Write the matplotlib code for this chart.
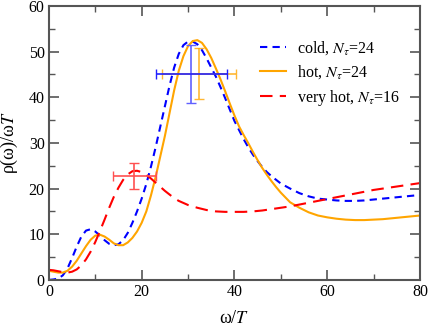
import matplotlib
matplotlib.use("Agg")
import matplotlib.pyplot as plt
from matplotlib.ticker import MultipleLocator

plt.rcParams["font.family"] = ["Liberation Serif", "DejaVu Serif"]
plt.rcParams["mathtext.fontset"] = "stix"

# spectral functions
cold_x = [0, 1, 2, 3, 4, 5, 6, 7, 8, 9, 10, 11, 12, 13, 14, 15, 16, 17, 18, 19,
          20, 21, 22, 23, 24, 25, 26, 27, 28, 29, 30, 31, 32, 33, 34, 35, 36, 37,
          38, 39, 40, 41, 42, 43, 44, 45, 46, 47, 48, 49, 50, 52, 54, 56, 58, 60,
          62, 64, 66, 68, 70, 72, 74, 76, 78, 80]
cold_y = [0.0, 0.1, 0.3, 1.0, 2.5, 4.8, 7.3, 9.5, 10.8, 11.1, 10.6, 9.7, 8.7, 7.9,
          7.6, 7.8, 8.7, 10.3, 12.5, 15.0, 17.8, 21.0, 24.8, 29.0, 33.5, 38.0, 42.5,
          46.5, 49.5, 51.4, 52.2, 52.2, 51.6, 50.3, 48.5, 46.5, 44.5, 42.2, 39.8,
          37.3, 34.8, 32.8, 30.8, 29.0, 27.4, 26.0, 24.7, 23.6, 22.7, 21.9, 21.1,
          20.0, 19.0, 18.3, 17.8, 17.6, 17.4, 17.3, 17.3, 17.4, 17.6, 17.8, 18.0,
          18.2, 18.4, 18.6]

hot_x = [0, 1, 2, 3, 4, 5, 6, 7, 8, 9, 10, 11, 12, 13, 14, 15, 16, 17, 18, 19,
         20, 21, 22, 23, 24, 25, 26, 27, 28, 29, 30, 31, 32, 33, 34, 35, 36, 37,
         38, 39, 40, 41, 42, 43, 44, 45, 46, 47, 48, 49, 50, 52, 54, 56, 58, 60,
         62, 64, 66, 68, 70, 72, 74, 76, 78, 80]
hot_y = [2.0, 1.8, 1.6, 1.6, 2.0, 2.9, 4.2, 5.8, 7.4, 8.8, 9.7, 9.9, 9.5, 8.8,
         8.0, 7.6, 7.6, 8.2, 9.2, 10.6, 12.5, 15.0, 18.5, 22.5, 27.0, 31.5, 36.5,
         41.5, 45.8, 49.0, 51.2, 52.3, 52.5, 51.9, 50.5, 48.6, 46.3, 43.9, 41.3,
         38.6, 36.0, 33.6, 31.7, 29.9, 28.0, 26.2, 24.5, 23.0, 21.6, 20.3, 19.1,
         17.0, 15.8, 14.8, 14.1, 13.7, 13.4, 13.2, 13.1, 13.1, 13.2, 13.3, 13.5,
         13.7, 13.9, 14.1]

vhot_x = [0, 1, 2, 3, 4, 5, 6, 7, 8, 9, 10, 11, 12, 13, 14, 15, 16, 17, 18, 19,
          20, 21, 22, 23, 24, 25, 26, 27, 28, 30, 32, 34, 36, 38, 40, 42, 44, 46,
          48, 50, 52, 54, 56, 58, 60, 62, 64, 66, 68, 70, 72, 74, 76, 78, 80]
vhot_y = [2.2, 2.1, 1.9, 1.7, 1.6, 1.8, 2.3, 3.2, 4.5, 6.2, 8.3, 10.7, 13.2, 15.8,
          18.2, 20.2, 21.9, 23.1, 23.8, 23.9, 23.6, 23.0, 22.2, 21.3, 20.4, 19.5,
          18.7, 17.9, 17.3, 16.4, 15.8, 15.3, 15.0, 14.9, 14.9, 14.9, 15.0, 15.2,
          15.5, 15.8, 16.1, 16.5, 16.9, 17.3, 17.7, 18.1, 18.5, 18.9, 19.3, 19.7,
          20.0, 20.3, 20.6, 20.9, 21.2]

# peak position / height with errors: (x, y, xerr_lo, xerr_hi, yerr_lo, yerr_hi)
cold_err = (30.6, 45.0, 7.6, 7.7, 6.3, 6.5)
hot_err = (32.3, 45.0, 8.0, 8.0, 5.3, 5.7)
vhot_err = (18.4, 22.8, 4.5, 4.7, 2.8, 2.8)

labels = [r"cold, $N_\tau$=24", r"hot, $N_\tau$=24", r"very hot, $N_\tau$=16"]

fig = plt.figure(figsize=(4.29, 3.27), dpi=100)
ax = fig.add_axes([0.114, 0.144, 0.865, 0.838])

ax.plot(cold_x, cold_y, color="#0000ff", lw=1.5, ls=(0, (3.5, 2.5)), label=labels[0])
ax.plot(hot_x, hot_y, color="#ffa500", lw=1.5, label=labels[1])
ax.plot(vhot_x, vhot_y, color="#ff0000", lw=1.5, ls=(0, (6, 3.5)), label=labels[2])

# orange first so the blue horizontal bar sits on top
x, y, xl, xh, yl, yh = hot_err
ax.errorbar([x], [y], xerr=[[xl], [xh]], yerr=[[yl], [yh]], color="#ffa500",
            lw=1.2, capsize=3.5, alpha=0.8)
x, y, xl, xh, yl, yh = cold_err
ax.errorbar([x], [y], yerr=[[yl], [yh]], color="#6060ff", lw=1.2, capsize=3.5)
ax.errorbar([x], [y], xerr=[[xl], [xh]], color="#2020ff", lw=1.2, capsize=3.5)
x, y, xl, xh, yl, yh = vhot_err
ax.errorbar([x], [y], xerr=[[xl], [xh]], yerr=[[yl], [yh]], color="#ff5050",
            lw=1.2, capsize=3.5)

ax.set_xlim(0, 80)
ax.set_ylim(0, 60)
ax.xaxis.set_major_locator(MultipleLocator(20))
ax.xaxis.set_minor_locator(MultipleLocator(10))
ax.yaxis.set_major_locator(MultipleLocator(10))
ax.yaxis.set_minor_locator(MultipleLocator(5))
ax.tick_params(which="both", direction="in", top=True, right=True,
               color="#555555", labelsize=11.5)
ax.tick_params(which="major", length=7, width=1.2, pad=3)
ax.tick_params(which="minor", length=4, width=1.0)
for s in ax.spines.values():
    s.set_color("#555555")
    s.set_linewidth(1.5)

ax.set_xlabel(r"ω/$T$", fontsize=13, labelpad=7)
ax.set_ylabel(r"ρ(ω)/ω$T$", fontsize=13, labelpad=6)

ax.legend(loc="upper right", bbox_to_anchor=(0.985, 0.93), frameon=False,
          fontsize=11.5, handlelength=1.6, handletextpad=0.7, labelspacing=0.4)

fig.savefig("out.png", dpi=100)
